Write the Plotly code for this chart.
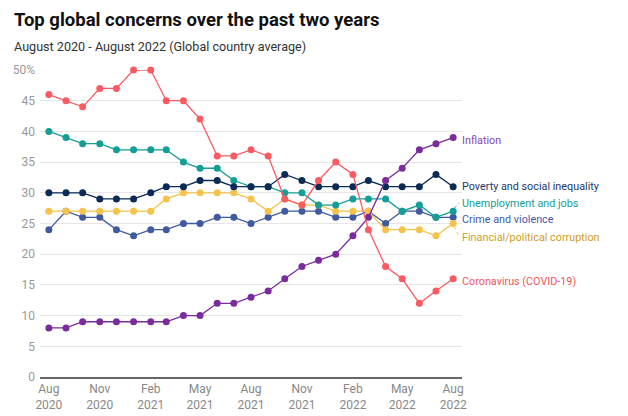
import plotly.graph_objects as go

# months, Aug 2020 - Aug 2022
months = ["2020-08-01", "2020-09-01", "2020-10-01", "2020-11-01", "2020-12-01",
          "2021-01-01", "2021-02-01", "2021-03-01", "2021-04-01", "2021-05-01",
          "2021-06-01", "2021-07-01", "2021-08-01", "2021-09-01", "2021-10-01",
          "2021-11-01", "2021-12-01", "2022-01-01", "2022-02-01", "2022-03-01",
          "2022-04-01", "2022-05-01", "2022-06-01", "2022-07-01", "2022-08-01"]

coronavirus = [46, 45, 44, 47, 47, 50, 50, 45, 45, 42, 36, 36, 37, 36, 29, 28, 32, 35, 33, 24, 18, 16, 12, 14, 16]
unemployment = [40, 39, 38, 38, 37, 37, 37, 37, 35, 34, 34, 32, 31, 31, 30, 30, 28, 28, 29, 29, 29, 27, 28, 26, 27]
poverty = [30, 30, 30, 29, 29, 29, 30, 31, 31, 32, 32, 31, 31, 31, 33, 32, 31, 31, 31, 32, 31, 31, 31, 33, 31]
corruption = [27, 27, 27, 27, 27, 27, 27, 29, 30, 30, 30, 30, 29, 27, 29, 28, 28, 27, 27, 27, 24, 24, 24, 23, 25]
crime = [24, 27, 26, 26, 24, 23, 24, 24, 25, 25, 26, 26, 25, 26, 27, 27, 27, 26, 26, 27, 25, 27, 27, 26, 26]
inflation = [8, 8, 9, 9, 9, 9, 9, 9, 10, 10, 12, 12, 13, 14, 16, 18, 19, 20, 23, 26, 32, 34, 37, 38, 39]

tick_months = ["2020-08-01", "2020-11-01", "2021-02-01", "2021-05-01", "2021-08-01",
               "2021-11-01", "2022-02-01", "2022-05-01", "2022-08-01"]
tick_text = ["Aug<br>2020", "Nov<br>2020", "Feb<br>2021", "May<br>2021", "Aug<br>2021",
             "Nov<br>2021", "Feb<br>2022", "May<br>2022", "Aug<br>2022"]

# name, values, line colour, label colour, label y
series = [
    ("Crime and violence", crime, "#3f5a9f", "#3f5aa6", 25.6),
    ("Financial/political corruption", corruption, "#f5c24c", "#d09d1f", 22.8),
    ("Unemployment and jobs", unemployment, "#139e96", "#139e96", 28.3),
    ("Poverty and social inequality", poverty, "#0b2a55", "#1d3766", 31),
    ("Inflation", inflation, "#7b2c9c", "#8a45ad", 38.6),
    ("Coronavirus (COVID-19)", coronavirus, "#fa5a62", "#f5555d", 15.6),
]

fig = go.Figure()
for name, vals, col, lcol, ly in series:
    fig.add_trace(go.Scatter(x=months, y=vals, mode="lines+markers", name=name,
                             line=dict(color=col, width=1.3),
                             marker=dict(color=col, size=7),
                             cliponaxis=False, showlegend=False, hoverinfo="skip"))
    fig.add_annotation(x="2022-08-01", y=ly, text=name, showarrow=False,
                       xanchor="left", xshift=7, yanchor="middle",
                       font=dict(color=lcol, size=10.8))
    if abs(ly - vals[-1]) > 1:
        # dotted connector from last point to label
        fig.add_shape(type="line", xref="x", yref="y",
                      x0="2022-08-03", y0=vals[-1] + (0.5 if ly > vals[-1] else -0.5),
                      x1="2022-08-12", y1=ly,
                      line=dict(color=col, width=1, dash="dot"))

fig.update_layout(
    width=628, height=416,
    margin=dict(l=40, r=166, t=70, b=39),
    paper_bgcolor="white", plot_bgcolor="white",
    font=dict(family="Roboto", color="#333"),
    title=dict(text="<b>Top global concerns over the past two years</b>",
               x=14 / 628, xref="container", xanchor="left",
               y=1 - 20 / 416, yref="container", yanchor="middle",
               font=dict(size=18.5, color="#111")),
)
fig.add_annotation(text="August 2020 - August 2022 (Global country average)",
                   xref="paper", yref="paper", x=-28 / 422, y=1 + 23 / 307,
                   xanchor="left", yanchor="middle", showarrow=False,
                   font=dict(size=12.6, color="#333"))

fig.update_xaxes(type="date", range=["2020-07-16", "2022-08-17"],
                 tickvals=tick_months, ticktext=tick_text, automargin=False,
                 showgrid=False, showline=True, linecolor="#666", linewidth=2,
                 ticks="", tickfont=dict(size=12, color="#888"))
fig.update_yaxes(range=[0, 50], tickvals=list(range(0, 51, 5)),
                 ticktext=[str(v) for v in range(0, 50, 5)] + ["50%"],
                 showgrid=True, gridcolor="#e6e6e6", gridwidth=1, automargin=False,
                 zeroline=False, ticks="", ticklabelstandoff=4,
                 tickfont=dict(size=12, color="#999"))

fig.write_html("out.html", config={"displayModeBar": False},
               post_script="document.body.style.margin='0';")
